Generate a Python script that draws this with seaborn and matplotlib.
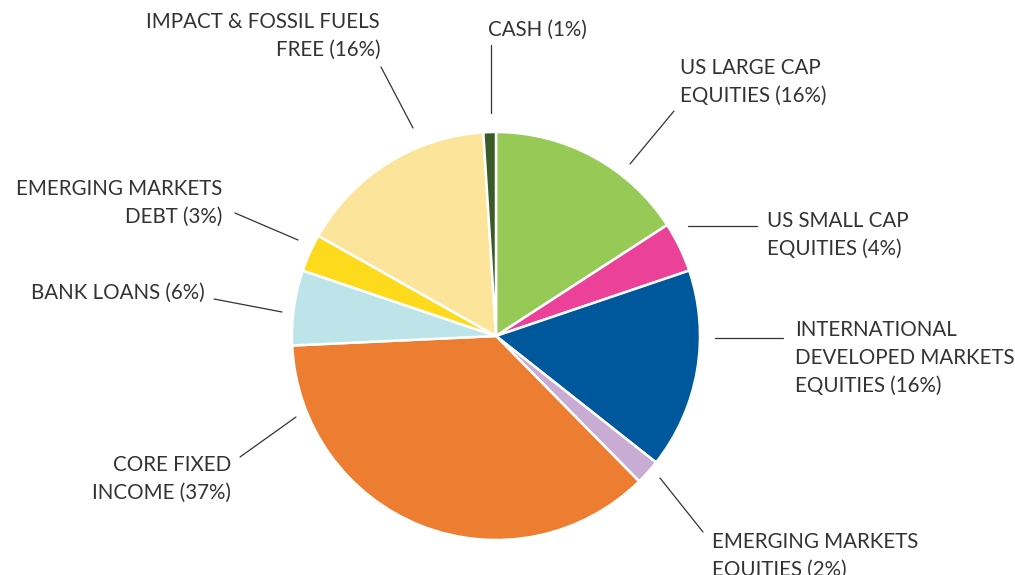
import matplotlib
matplotlib.use("Agg")
import matplotlib.pyplot as plt
import seaborn as sns

# ---- data (clockwise from 12 o'clock) ----
categories = [
    "US LARGE CAP\nEQUITIES (16%)",
    "US SMALL CAP\nEQUITIES (4%)",
    "INTERNATIONAL\nDEVELOPED MARKETS\nEQUITIES (16%)",
    "EMERGING MARKETS\nEQUITIES (2%)",
    "CORE FIXED\nINCOME (37%)",
    "BANK LOANS (6%)",
    "EMERGING MARKETS\nDEBT (3%)",
    "IMPACT & FOSSIL FUELS\nFREE (16%)",
    "CASH (1%)",
]
values = [16, 4, 16, 2, 37, 6, 3, 16, 1]
colors = ["#97C957", "#EC4199", "#00589C", "#C8ACD3", "#ED7D31",
          "#BDE4E9", "#FDDA1C", "#FCE59B", "#3A5A28"]

sns.set_theme(style="white")
plt.rcParams["font.family"] = ["Lato", "DejaVu Sans"]
palette = sns.color_palette(colors)

W, H = 1015, 575
CX, CY, R = 496, 336, 204

fig = plt.figure(figsize=(W / 100, H / 100), dpi=100)
ax = fig.add_axes([0, 0, 1, 1])
ax.pie(values, colors=palette, startangle=90, counterclock=False, radius=1,
       wedgeprops=dict(edgecolor="white", linewidth=1.8))
ax.set_xlim(-CX / R, (W - CX) / R)
ax.set_ylim(-(H - CY) / R, CY / R)
ax.set_aspect("auto")
ax.axis("off")


def px(x, y):
    return ((x - CX) / R, (CY - y) / R)


# label layout: (line start, line end, text anchor, ha)
layout = [
    ((630, 164), (674, 111), (680, 82), "left"),
    ((688, 226), (757, 226), (767, 235), "left"),
    ((715, 338), (783, 338), (795, 358), "left"),
    ((660, 478), (703, 532), (712, 556), "left"),
    ((296, 417), (240, 457), (231, 479), "right"),
    ((282, 312), (214, 299), (205, 293), "right"),
    ((298, 240), (235, 213), (222, 203), "right"),
    ((413, 128), (381, 67), (380, 36), "right"),
    ((491, 113), (491, 45), (488, 30), "left"),
]

for label, (p0, p1, pt, ha) in zip(categories, layout):
    x0, y0 = px(*p0)
    x1, y1 = px(*p1)
    ax.plot([x0, x1], [y0, y1], color="#333333", linewidth=0.9)
    tx, ty = px(*pt)
    ax.text(tx, ty, label, ha=ha, va="center", multialignment=ha,
            fontsize=14.8, color="#333333", linespacing=1.5)

fig.savefig("out.png", dpi=100)
